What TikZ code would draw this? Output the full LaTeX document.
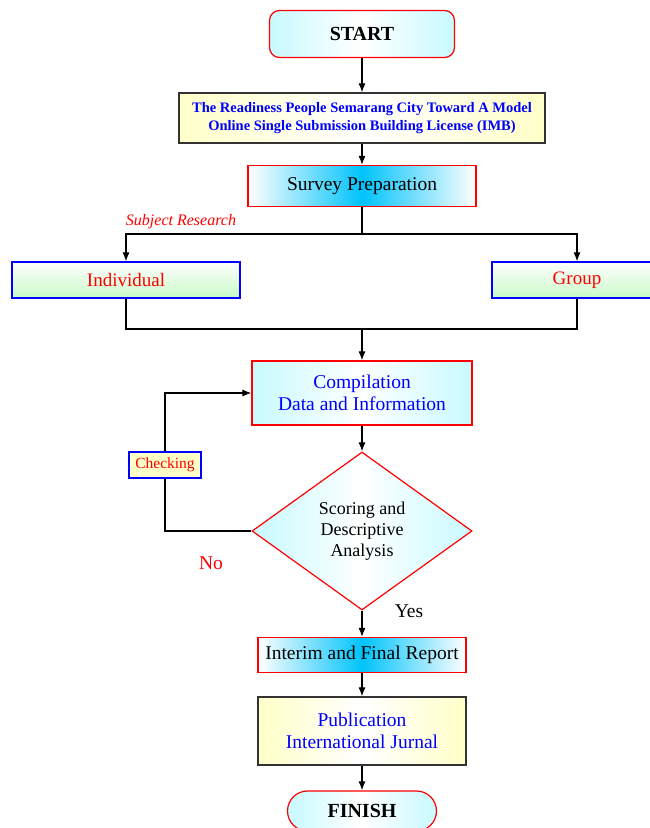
\documentclass[tikz,border=0pt]{standalone}
\usepackage{fontspec}
\setmainfont{Liberation Serif}
\usetikzlibrary{shapes, arrows.meta, positioning}
\definecolor{skyblue}{RGB}{0,195,250}
\definecolor{paleyellow}{RGB}{255,255,200}
\definecolor{palegreen}{RGB}{200,250,200}
\definecolor{palecyan}{RGB}{200,250,255}
\tikzstyle{terminal} = [draw=red, line width=1.2pt, rectangle, rounded corners=10pt, left color=palecyan, right color=palecyan, middle color=white, font=\fontsize{20}{24}\selectfont\bfseries]
\tikzstyle{process} = [draw=red, line width=1.2pt, rectangle, left color=white, right color=white, middle color=skyblue, font=\fontsize{19.5}{24}\selectfont]
\tikzstyle{note} = [draw=black!80, line width=1.2pt, rectangle, left color=paleyellow, right color=paleyellow, middle color=white, align=center, text=blue]
\tikzstyle{subject} = [draw=blue, line width=1.2pt, rectangle, top color=white, bottom color=palegreen, text=red, font=\fontsize{19}{23}\selectfont]
\tikzstyle{mainbox} = [draw=red, line width=1.2pt, left color=palecyan, right color=palecyan, middle color=white, align=center]
\tikzstyle{line} = [draw, line width=1.1pt]

\begin{document}
\begin{tikzpicture}[>={Latex[length=9pt,width=7pt]}, x=1pt, y=-1pt]
    \useasboundingbox (0,0) rectangle (649,828);
    \node[terminal, minimum width=185pt, minimum height=47pt] (start) at (362,34) {START};
    \node[note, below of=start, node distance=84pt, minimum width=366pt, minimum height=50pt,
        font=\fontsize{14.5}{18}\selectfont\bfseries] (title)
        {The Readiness People Semarang City Toward A Model\\Online Single Submission Building License (IMB)};
    \node[process, below of=title, node distance=68pt, minimum width=228pt, minimum height=41pt] (survey) {Survey Preparation};
    \node[subject, minimum width=228pt, minimum height=36pt] (indiv) at (126,280) {Individual};
    \node[subject, minimum width=170pt, minimum height=36pt] (group) at (577,280) {Group};
    \node[mainbox, below of=survey, node distance=207pt, minimum width=220pt, minimum height=64pt,
        text=blue, font=\fontsize{19.5}{22}\selectfont] (compil) {Compilation\\Data and Information};
    \node[mainbox, shape=diamond, below of=compil, node distance=138pt, minimum width=220pt, minimum height=158pt,
        inner sep=0pt, font=\fontsize{18}{21}\selectfont] (score) {Scoring and\\Descriptive\\Analysis};
    \node[draw=blue, line width=1.2pt, fill=paleyellow, text=red, minimum width=72pt, minimum height=26pt,
        inner sep=1pt, font=\fontsize{15.5}{18}\selectfont] (check) at (165,465) {Checking};
    \node[process, below of=score, node distance=124pt, minimum width=208pt, minimum height=35pt] (report) {Interim and Final Report};
    \node[note, below of=report, node distance=76pt, minimum width=208pt, minimum height=68pt,
        font=\fontsize{19.5}{22}\selectfont] (pub) {Publication\\International Jurnal};
    \node[terminal, below of=pub, node distance=80pt, minimum width=149pt, minimum height=40pt, rounded corners=20pt] (finish) {FINISH};
    % labels
    \node[text=red, font=\fontsize{16}{19}\selectfont\itshape] (research) at (181,222) {Subject Research};
    \node[text=red, font=\fontsize{19.5}{23}\selectfont] (no) at (211,563) {No};
    \node[font=\fontsize{19.5}{23}\selectfont] (yes) at (409,611) {Yes};
    \coordinate (split) at (362,234);
    \coordinate (join) at (362,329);
    % connectors
    \draw[line, ->] (start) -- (title);
    \draw[line, ->] (title) -- (survey);
    \draw[line] (survey) -- (split);
    \draw[line, ->] (split) -| (indiv);
    \draw[line, ->] (split) -| (group);
    \draw[line] (indiv) |- (join);
    \draw[line] (group) |- (join);
    \draw[line, ->] (join) -- (compil);
    \draw[line, ->] (compil) -- (score);
    \draw[line] (score.west) -| (check);
    \draw[line, ->] (check) |- (compil.west);
    \draw[line, ->] (score) -- (report);
    \draw[line, ->] (report) -- (pub);
    \draw[line, ->] (pub) -- (finish);
\end{tikzpicture}
\end{document}
